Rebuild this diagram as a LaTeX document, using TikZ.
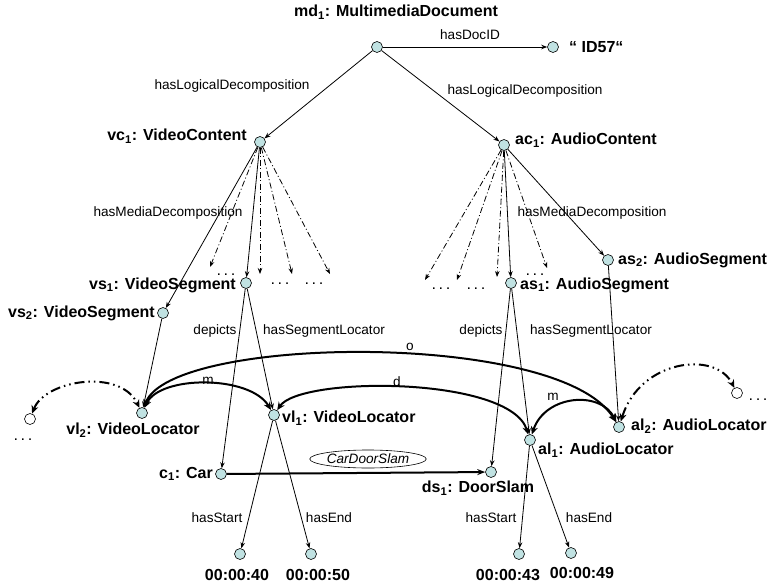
\documentclass[tikz,border=0pt]{standalone}
\usepackage{fontspec}
\setmainfont{Liberation Sans}
\usetikzlibrary{arrows.meta,shapes.geometric}
\definecolor{nodefill}{RGB}{192,226,226}
\tikzset{
  obj/.style={circle, draw=black, line width=0.6pt, fill=nodefill, minimum size=11pt, inner sep=0pt},
  wobj/.style={obj, fill=white},
  lbl/.style={inner sep=0pt, font=\fontsize{16}{18}\selectfont\bfseries},
  elab/.style={inner sep=0pt, font=\fontsize{13.6}{15}\selectfont},
  dotsl/.style={inner sep=0pt, anchor=base, font=\fontsize{11}{13}\selectfont\bfseries},
  rel/.style={line width=0.8pt, -{Stealth[length=6pt,width=4.5pt]}},
  ddrel/.style={rel, dash pattern=on 6pt off 2.5pt on 1pt off 2.5pt},
  trel/.style={line width=2pt, {Stealth[length=8pt,width=7pt]}-{Stealth[length=8pt,width=7pt]}},
  tddrel/.style={trel, dash pattern=on 10pt off 4pt on 1.5pt off 4pt on 1.5pt off 4pt},
  srel/.style={line width=2pt, -{Stealth[length=8pt,width=6pt]}}
}
\begin{document}
\begin{tikzpicture}[x=1pt,y=-1pt]
\useasboundingbox (0,0) rectangle (768,586);
% objects
\node[obj] (md) at (377,47) {};
\node[obj] (id) at (553,47) {};
\node[obj] (vc) at (260,142) {};
\node[obj] (ac) at (504,145) {};
\node[obj] (vs1) at (246,283) {};
\node[obj] (vs2) at (163,313) {};
\node[obj] (as1) at (511,283) {};
\node[obj] (as2) at (608,260) {};
\node[obj] (vl2) at (142,413) {};
\node[obj] (vl1) at (274,415) {};
\node[obj] (al1) at (530,440) {};
\node[obj] (al2) at (619,427) {};
\node[obj] (c1) at (221,474) {};
\node[obj] (ds1) at (491,472) {};
\node[obj] (t40) at (240,554) {};
\node[obj] (t50) at (311,554) {};
\node[obj] (t43) at (519,554) {};
\node[obj] (t49) at (571,553) {};
\node[wobj] (wl) at (30,419) {};
\node[wobj] (wr) at (737,393) {};
% object labels
\node[lbl] (lmd) at (396,12) {md\textsubscript{1}: MultimediaDocument};
\node[lbl, anchor=west] (lid) at (569,47) {“ ID57“};
\node[lbl, anchor=east] (lvc) at (247,136) {vc\textsubscript{1}: VideoContent};
\node[lbl, anchor=west] (lac) at (515,140) {ac\textsubscript{1}: AudioContent};
\node[lbl, anchor=east] (lvs1) at (236,285) {vs\textsubscript{1}: VideoSegment};
\node[lbl, anchor=east] (lvs2) at (155,313) {vs\textsubscript{2}: VideoSegment};
\node[lbl, anchor=west] (las1) at (520,285) {as\textsubscript{1}: AudioSegment};
\node[lbl, anchor=west] (las2) at (618,260) {as\textsubscript{2}: AudioSegment};
\node[lbl] (lvl2) at (133,430) {vl\textsubscript{2}: VideoLocator};
\node[lbl, anchor=west] (lvl1) at (282,418) {vl\textsubscript{1}: VideoLocator};
\node[lbl, anchor=west] (lal1) at (538,450) {al\textsubscript{1}: AudioLocator};
\node[lbl, anchor=west] (lal2) at (631,426) {al\textsubscript{2}: AudioLocator};
\node[lbl, anchor=east] (lc1) at (213,474) {c\textsubscript{1}: Car};
\node[lbl] (lds1) at (478,488) {ds\textsubscript{1}: DoorSlam};
\node[lbl] (lt40) at (237,575) {00:00:40};
\node[lbl] (lt50) at (318,575) {00:00:50};
\node[lbl] (lt43) at (508,575) {00:00:43};
\node[lbl] (lt49) at (582,573) {00:00:49};
% dots
\node[dotsl] (d1) at (226,275) {. . .};
\node[dotsl] (d2) at (280,284) {. . .};
\node[dotsl] (d3) at (314,284) {. . .};
\node[dotsl] (d4) at (441,289) {. . .};
\node[dotsl] (d5) at (476,289) {. . .};
\node[dotsl] (d6) at (535,275) {. . .};
\node[dotsl] (d7) at (23,440) {. . .};
\node[dotsl, anchor=base east] (d8) at (767,400) {. . .};
% free ends of decomposition arrows
\coordinate (ve1) at (210,267);
\coordinate (ve2) at (260,274);
\coordinate (ve3) at (292,274);
\coordinate (ve4) at (330,274);
\coordinate (ae1) at (425,280);
\coordinate (ae2) at (457,280);
\coordinate (ae3) at (497,277);
\coordinate (ae4) at (547,268);
% top
\draw[rel] (md) -- (id);
\draw[rel] (md) -- (vc);
\draw[rel] (md) -- (ac);
\node[elab] (lhd) at (470,35) {hasDocID};
\node[elab] (lhl1) at (232,86) {hasLogicalDecomposition};
\node[elab] (lhl2) at (525,91) {hasLogicalDecomposition};
% media decomposition
\draw[rel] (vc) -- (vs2);
\draw[rel] (vc) -- (vs1);
\draw[ddrel] (vc) -- (ve1);
\draw[ddrel] (vc) -- (ve2);
\draw[ddrel] (vc) -- (ve3);
\draw[ddrel] (vc) -- (ve4);
\draw[rel] (ac) -- (as1);
\draw[rel] (ac) -- (as2);
\draw[ddrel] (ac) -- (ae1);
\draw[ddrel] (ac) -- (ae2);
\draw[ddrel] (ac) -- (ae3);
\draw[ddrel] (ac) -- (ae4);
\node[elab] (lhm1) at (168,213) {hasMediaDecomposition};
\node[elab] (lhm2) at (592,213) {hasMediaDecomposition};
% segments
\draw[rel] (vs1) -- (c1);
\draw[rel] (vs1) -- (vl1);
\draw[rel] (vs2) -- (vl2);
\draw[rel] (as1) -- (ds1);
\draw[rel] (as1) -- (al1);
\draw[rel] (as2) -- (al2);
\node[elab] (ldp1) at (215,331) {depicts};
\node[elab] (lsl1) at (324,331) {hasSegmentLocator};
\node[elab] (ldp2) at (481,331) {depicts};
\node[elab] (lsl2) at (591,331) {hasSegmentLocator};
% times
\draw[rel] (vl1) -- (t40);
\draw[rel] (vl1) -- (t50);
\draw[rel] (al1) -- (t43);
\draw[rel] (al1) -- (t49);
\node[elab] (lhs1) at (217,518) {hasStart};
\node[elab] (lhe1) at (329,518) {hasEnd};
\node[elab] (lhs2) at (491,518) {hasStart};
\node[elab] (lhe2) at (589,518) {hasEnd};
% car -> door slam
\draw[srel] (c1) -- (ds1);
\node[draw, ellipse, line width=0.6pt, minimum width=106pt, minimum height=18pt, inner sep=0pt,
      font=\fontsize{13.6}{15}\selectfont\itshape] (cds) at (368,459) {CarDoorSlam};
% temporal relations
\draw[trel] (vl2) .. controls (170,335) and (560,330) .. (al2);
\draw[trel] (vl2) .. controls (160,375) and (250,375) .. (vl1);
\draw[trel] (vl1) .. controls (300,376) and (510,376) .. (al1);
\draw[trel] (al1) .. controls (545,395) and (600,390) .. (al2);
\draw[tddrel] (wl) .. controls (45,380) and (120,368) .. (vl2);
\draw[tddrel] (al2) .. controls (640,360) and (715,350) .. (wr);
\node[elab] (lo) at (410,347) {o};
\node[elab] (lm1) at (208,381) {m};
\node[elab] (ld) at (397,382) {d};
\node[elab] (lm2) at (553,397) {m};
\end{tikzpicture}
\end{document}
